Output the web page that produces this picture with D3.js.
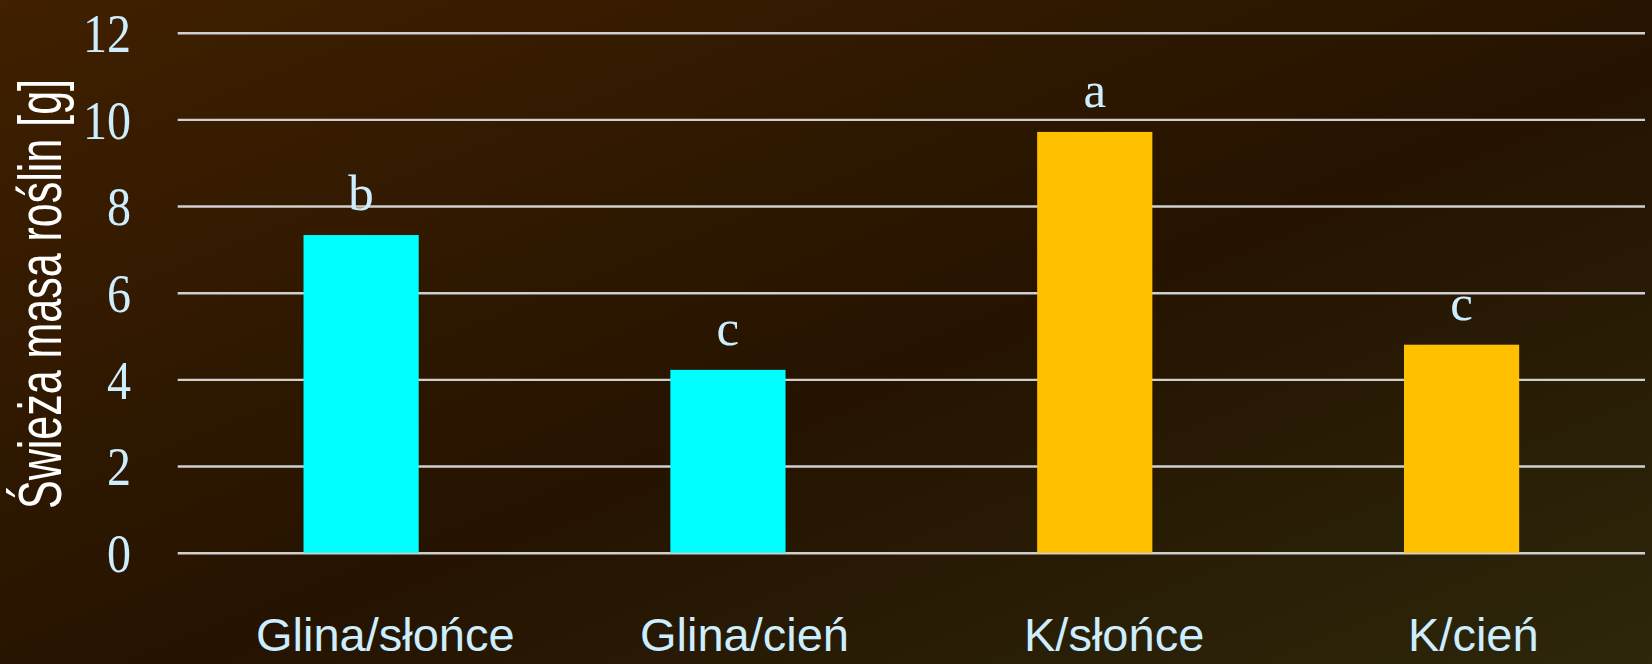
<!DOCTYPE html>
<html>
<head>
<meta charset="utf-8">
<script src="https://cdn.jsdelivr.net/npm/d3@7"></script>
<style>
  html, body { margin: 0; padding: 0; background: #2a1600; }
  svg { display: block; }
</style>
</head>
<body>
<svg width="1652" height="664"></svg>
<script>
// data
var categories = ['Glina/słońce', 'Glina/cień', 'K/słońce', 'K/cień'];
var values = [7.33, 4.22, 9.71, 4.8];
var letters = ['b', 'c', 'a', 'c'];
var barColors = ['#00ffff', '#00ffff', '#ffc000', '#ffc000'];
var yTicks = [0, 2, 4, 6, 8, 10, 12];
var yTitle = 'Świeża masa roślin [g]';

var svg = d3.select('svg'),
  width = +svg.attr('width'),
  height = +svg.attr('height');

// background gradient
var defs = svg.append('defs');
var grad = defs.append('linearGradient')
  .attr('id', 'bg')
  .attr('x1', '0%').attr('y1', '0%')
  .attr('x2', '100%').attr('y2', '100%');
grad.append('stop').attr('offset', '0%').attr('stop-color', '#402000');
grad.append('stop').attr('offset', '55%').attr('stop-color', '#251300');
grad.append('stop').attr('offset', '100%').attr('stop-color', '#2d270b');
svg.append('rect')
  .attr('width', width).attr('height', height)
  .attr('fill', 'url(#bg)');

// plot area ("top" is taken by window.top)
var plotLeft = 177.7, plotRight = 1645, plotTop = 32.7, plotBottom = 552.7;

var x = d3.scaleBand()
  .domain(categories)
  .range([plotLeft, plotRight])
  .paddingInner(0.686)
  .paddingOuter(0.343);

// category labels sit on their own, slightly wider grid (left aligned)
var labelX = d3.scalePoint()
  .domain(categories)
  .range([256, 1408]);

var y = d3.scaleLinear()
  .domain([0, 12])
  .range([plotBottom, plotTop]);

// grid + tick labels
var yAxis = svg.append('g')
  .attr('transform', 'translate(' + plotLeft + ',0)')
  .call(d3.axisLeft(y)
    .tickValues(yTicks)
    .tickSize(-(plotRight - plotLeft))
    .tickPadding(46.7)
    .tickFormat(d3.format('d')));
yAxis.select('.domain').remove();
yAxis.selectAll('.tick line')
  .attr('stroke', '#cfcfcf')
  .attr('stroke-width', 2.4);
yAxis.selectAll('.tick text')
  .attr('fill', '#cdeeff')
  .attr('font-family', '"Liberation Serif", "Times New Roman", serif')
  .attr('font-size', 48)
  .attr('dy', '0.34em')
  .attr('transform', 'scale(1,1.16)');

// bars
svg.append('g')
  .selectAll('rect')
  .data(values)
  .enter().append('rect')
  .attr('x', function(d, i) { return x(categories[i]); })
  .attr('y', function(d) { return y(d); })
  .attr('width', x.bandwidth())
  .attr('height', function(d) { return y(0) - y(d); })
  .attr('fill', function(d, i) { return barColors[i]; });

// significance letters
svg.append('g')
  .selectAll('text')
  .data(values)
  .enter().append('text')
  .attr('x', function(d, i) { return x(categories[i]) + x.bandwidth() / 2; })
  .attr('y', function(d) { return y(d) - 25; })
  .attr('text-anchor', 'middle')
  .attr('fill', '#cdeeff')
  .attr('font-family', '"Liberation Serif", "Times New Roman", serif')
  .attr('font-size', 51)
  .text(function(d, i) { return letters[i]; });

// category labels
svg.append('g')
  .selectAll('text')
  .data(categories)
  .enter().append('text')
  .attr('x', function(d) { return labelX(d); })
  .attr('y', 651)
  .attr('fill', '#cdeeff')
  .attr('font-family', '"Liberation Sans", Arial, sans-serif')
  .attr('font-size', 47)
  .text(function(d) { return d; });

// y title (glyphs are stretched across the line in the original)
svg.append('text')
  .attr('transform', 'translate(61,294) rotate(-90) scale(1,1.42)')
  .attr('text-anchor', 'middle')
  .attr('fill', '#ffffff')
  .attr('font-family', '"Liberation Sans", Arial, sans-serif')
  .attr('font-size', 43)
  .text(yTitle);
</script>
</body>
</html>
